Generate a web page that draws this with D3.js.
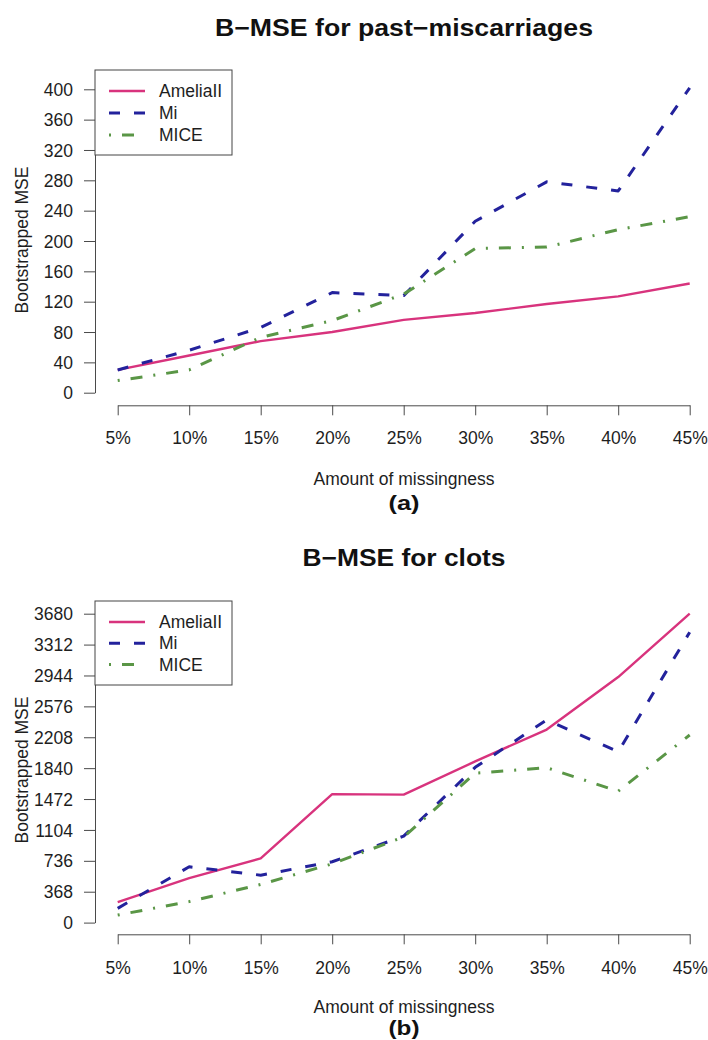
<!DOCTYPE html>
<html>
<head>
<meta charset="utf-8">
<script src="https://cdn.jsdelivr.net/npm/d3@7"></script>
<style>
  body { margin: 0; background: #fff; }
  svg { display: block; }
  text { font-family: "Liberation Sans", Arial, Helvetica, sans-serif; fill: #1e1e1e; }
</style>
</head>
<body>
<svg id="fig" width="708" height="1040"></svg>
<script>
// Amount of missing data (x categories)
const missingness = ["5%", "10%", "15%", "20%", "25%", "30%", "35%", "40%", "45%"];
const methods = ["AmeliaII", "Mi", "MICE"];

// Bootstrapped MSE, past-miscarriages
const miscAmelia = [30, 49, 68, 80, 96, 105, 117, 127, 144];
const miscMi     = [30, 56, 86, 132, 128, 226, 278, 266, 402];
const miscMice   = [16, 30, 73, 95, 130, 190, 192, 215, 232];
const miscTicks  = [0, 40, 80, 120, 160, 200, 240, 280, 320, 360, 400];

// Bootstrapped MSE, clots
const clotsAmelia = [245, 530, 765, 1530, 1525, 1920, 2300, 2925, 3680];
const clotsMi     = [170, 665, 565, 725, 1030, 1850, 2415, 2035, 3460];
const clotsMice   = [90, 250, 455, 700, 1020, 1780, 1845, 1565, 2235];
const clotsTicks  = [0, 368, 736, 1104, 1472, 1840, 2208, 2576, 2944, 3312, 3680];

// line appearance per method
const styles = {
  "AmeliaII": { color: "#d8337d", dash: null, width: 2.4 },
  "Mi":       { color: "#23229c", dash: "11,14", width: 3 },
  "MICE":     { color: "#5a9646", dash: "2,11,12,11", width: 3 }
};

const svg = d3.select("#fig");
const axisColor = "#4a4a4a";

function drawPanel(p) {
  const x = d3.scalePoint().domain(missingness).range([117.7, 689.7]);
  const y = d3.scaleLinear().domain([0, d3.max(p.ticks)]).range([p.y0, p.yTop]);
  const g = svg.append("g");

  // title
  g.append("text")
    .attr("x", 404).attr("y", p.titleY)
    .attr("text-anchor", "middle")
    .attr("font-size", 23).attr("font-weight", "bold")
    .attr("textLength", p.titleW).attr("lengthAdjust", "spacingAndGlyphs")
    .style("fill", "#111")
    .text(p.title);

  // y axis
  const ya = g.append("g").attr("transform", "translate(95,0)")
    .call(d3.axisLeft(y).tickValues(p.ticks).tickSize(11).tickSizeOuter(0).tickFormat(d3.format("d")));
  ya.selectAll("path,line").attr("stroke", axisColor).attr("stroke-width", 1);
  ya.selectAll("text").attr("x", -22).attr("dy", "0.35em")
    .attr("font-size", 17.5).attr("font-family", null).style("fill", "#1e1e1e");

  // x axis, set below the plot
  const xa = g.append("g").attr("transform", `translate(0,${p.xAxisY})`)
    .call(d3.axisBottom(x).tickSize(10).tickSizeOuter(0));
  xa.selectAll("path,line").attr("stroke", axisColor).attr("stroke-width", 1);
  xa.selectAll("text").attr("y", p.xLabelOff).attr("dy", 0)
    .attr("font-size", 17.5).attr("font-family", null).style("fill", "#1e1e1e");

  // axis titles
  g.append("text")
    .attr("transform", `translate(28,${p.yTitleY}) rotate(-90)`)
    .attr("text-anchor", "middle").attr("font-size", 17.5)
    .text("Bootstrapped MSE");
  g.append("text")
    .attr("x", 404).attr("y", p.xTitleY)
    .attr("text-anchor", "middle").attr("font-size", 17.5)
    .text("Amount of missingness");
  g.append("text")
    .attr("x", 404).attr("y", p.tagY)
    .attr("text-anchor", "middle").attr("font-size", 21).attr("font-weight", "bold")
    .attr("textLength", 31).attr("lengthAdjust", "spacingAndGlyphs")
    .style("fill", "#111")
    .text(p.tag);

  // series lines
  const line = d3.line().x((d, i) => x(missingness[i])).y(d => y(d));
  p.series.forEach((vals, k) => {
    const s = styles[methods[k]];
    g.append("path")
      .datum(vals)
      .attr("d", line)
      .attr("fill", "none")
      .attr("stroke", s.color)
      .attr("stroke-width", s.width)
      .attr("stroke-dasharray", s.dash)
      .attr("stroke-linejoin", "round");
  });

  // legend
  const lg = g.append("g");
  lg.append("rect")
    .attr("x", 95).attr("y", p.legTop)
    .attr("width", 137).attr("height", p.legH)
    .attr("fill", "#fff").attr("stroke", "#454545").attr("stroke-width", 1);
  methods.forEach((m, k) => {
    const s = styles[m];
    const ry = p.legRow0 + k * p.legStep;
    lg.append("line")
      .attr("x1", 109).attr("x2", 145).attr("y1", ry).attr("y2", ry)
      .attr("stroke", s.color).attr("stroke-width", s.width)
      .attr("stroke-dasharray", s.dash);
    lg.append("text")
      .attr("x", 159).attr("y", ry).attr("dy", "0.35em")
      .attr("font-size", 17.5)
      .text(m);
  });
}

drawPanel({
  title: "B\u2212MSE for past\u2212miscarriages", titleY: 36, titleW: 378,
  ticks: miscTicks, y0: 392.7, yTop: 89.3,
  xAxisY: 405.3, xLabelOff: 38.7, xTitleY: 485, tagY: 510, tag: "(a)",
  yTitleY: 240,
  legTop: 70, legH: 85, legRow0: 91, legStep: 22,
  series: [miscAmelia, miscMi, miscMice]
});

drawPanel({
  title: "B\u2212MSE for clots", titleY: 566, titleW: 203,
  ticks: clotsTicks, y0: 922.6, yTop: 613.7,
  xAxisY: 934.3, xLabelOff: 39.7, xTitleY: 1012.5, tagY: 1034.5, tag: "(b)",
  yTitleY: 770,
  legTop: 601, legH: 84, legRow0: 622, legStep: 21.2,
  series: [clotsAmelia, clotsMi, clotsMice]
});
</script>
</body>
</html>
